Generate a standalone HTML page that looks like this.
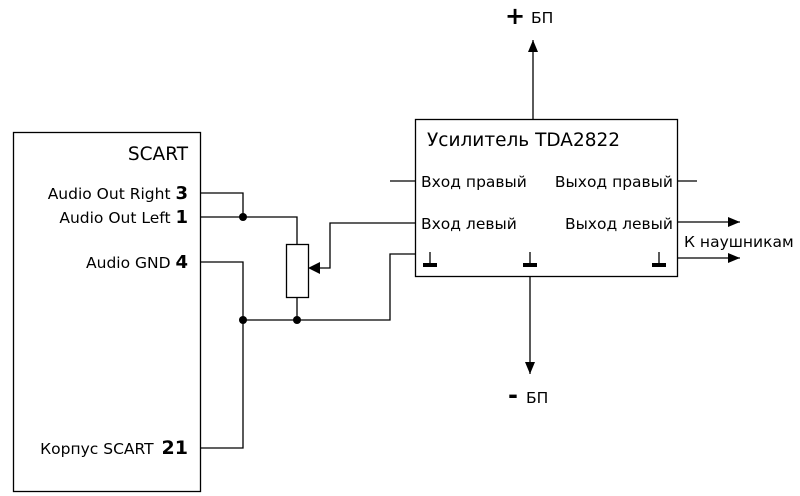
<!DOCTYPE html>
<html><head><meta charset="utf-8"><style>
html,body{margin:0;padding:0;background:#fff}
svg{display:block}
text{font-family:"DejaVu Sans","Liberation Sans",sans-serif;fill:#000}
</style></head><body>
<svg width="800" height="496" viewBox="0 0 800 496">
<defs><marker id="a" markerWidth="12" markerHeight="10" refX="12" refY="5" orient="auto" markerUnits="userSpaceOnUse"><path d="M0,0 L12,5 L0,10 Z" fill="#000"/></marker></defs>
<g fill="none" stroke="#000" stroke-width="1.3">
<rect x="13.5" y="132.5" width="187" height="359"/>
<rect x="415.5" y="119.5" width="262" height="157"/>
<polyline points="200,193 243,193 243,217"/>
<polyline points="200,217 297,217 297,244"/>
<rect x="286.5" y="244.5" width="22" height="53"/>
<polyline points="297,297 297,320"/>
<polyline points="200,262 243,262 243,448 200,448"/>
<polyline points="243,320 390,320 390,254 415,254"/>
<polyline points="415,223 330,223 330,268 312,268"/>
<line x1="390" y1="181" x2="415" y2="181"/>
<line x1="677" y1="181" x2="697" y2="181"/>
<line x1="677" y1="222" x2="740" y2="222" marker-end="url(#a)"/>
<line x1="677" y1="258" x2="740" y2="258" marker-end="url(#a)"/>
<line x1="533" y1="119" x2="533" y2="40" marker-end="url(#a)"/>
<line x1="530" y1="276" x2="530" y2="374" marker-end="url(#a)"/>
<line x1="430" y1="252" x2="430" y2="264"/>
<line x1="530" y1="252" x2="530" y2="264"/>
<line x1="659" y1="252" x2="659" y2="264"/>
</g>
<path d="M308,268 L320,262 L320,274 Z" fill="#000"/>
<g fill="#000">
<circle cx="243" cy="217" r="4"/><circle cx="243" cy="320" r="4"/><circle cx="297" cy="320" r="4"/>
<rect x="423" y="263" width="14" height="4"/><rect x="523" y="263" width="14" height="4"/><rect x="652" y="263" width="14" height="4"/>
</g>
<text x="188" y="160" font-size="18.5" text-anchor="end">SCART</text>
<text x="188" y="199" font-size="15.5" text-anchor="end">Audio Out Right <tspan font-weight="bold" font-size="18">3</tspan></text>
<text x="188" y="223" font-size="15.5" text-anchor="end">Audio Out Left <tspan font-weight="bold" font-size="18">1</tspan></text>
<text x="188" y="268" font-size="15.5" text-anchor="end">Audio GND <tspan font-weight="bold" font-size="18">4</tspan></text>
<text x="188" y="454" font-size="15.5" text-anchor="end">Корпус SCART <tspan font-weight="bold" font-size="19" dx="3">21</tspan></text>
<text x="427" y="146" font-size="18.5">Усилитель TDA2822</text>
<text x="421" y="187" font-size="15.5">Вход правый</text>
<text x="421" y="229" font-size="15.5">Вход левый</text>
<text x="673" y="187" font-size="15.5" text-anchor="end">Выход правый</text>
<text x="673" y="229" font-size="15.5" text-anchor="end">Выход левый</text>
<text x="684" y="247" font-size="15.5">К наушникам</text>
<text x="505" y="24" font-size="24" font-weight="bold">+</text>
<text x="531" y="23" font-size="15.5">БП</text>
<text x="508" y="403" font-size="24" font-weight="bold">-</text>
<text x="526" y="403" font-size="15.5">БП</text>
</svg>
</body></html>
